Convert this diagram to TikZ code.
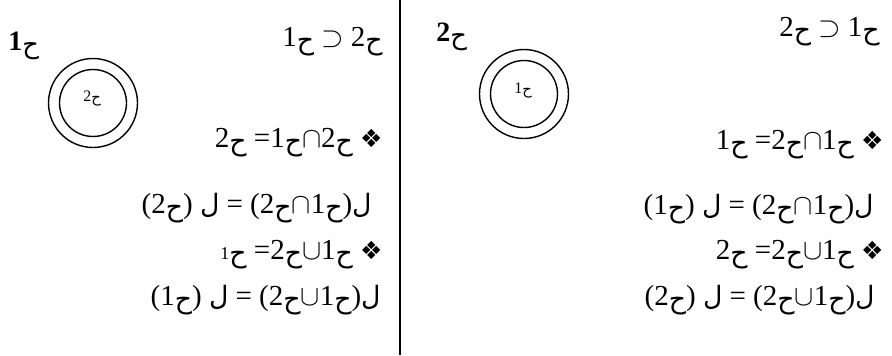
\documentclass[tikz,border=0pt]{standalone}
\usepackage{fontspec}
\usepackage{tikz}
\setmainfont{Liberation Serif}
\newfontfamily\arabicfont[Script=Arabic,Scale=0.92]{DejaVu Sans}
\newfontfamily\symfont{DejaVu Sans}
\newcommand{\ha}{\raisebox{-0.12em}{\arabicfont\mdseries ح}}
\newcommand{\lam}{{\arabicfont\mdseries ل}}
\newcommand{\orn}{{\symfont\fontsize{12.5}{12}\selectfont ❖}}

\begin{document}
\begin{tikzpicture}[x=0.5pt, y=-0.5pt,
    eq/.style={anchor=base east, inner sep=0pt, font=\fontsize{14.5}{17}\selectfont},
    tag/.style={anchor=base west, inner sep=0pt, font=\fontsize{14}{17}\selectfont\bfseries},
    sub/.style={anchor=base, inner sep=0pt, font=\fontsize{8}{9}\selectfont},
    ring/.style={draw, circle, line width=0.7pt, inner sep=0pt}]
    \useasboundingbox (0,0) rectangle (892,355);

    % Divider
    \coordinate (top) at (400,0);
    \coordinate (bot) at (400,355);
    \draw[line width=0.6pt] (top) -- (bot);

    % Left: first set contains the second
    \node[tag] (lname) at (8,50) {1\ha};
    \node[ring, minimum size=44.5pt] (lout) at (93,103) {};
    \node[ring, minimum size=33.5pt] (lin) at (lout) {};
    \node[sub] (linner) at (92,101) {2\ha};
    \node[eq] (l1) at (383,46) {1\ha\ $\supset$ 2\ha};
    \node[eq] (l3) at (383,147) {2\ha\ =1\ha$\cap$2\ha\ \orn};
    \node[eq] (l4) at (372,213) {(2\ha)\ \lam\ = (2\ha$\cap$1\ha)\lam};
    \node[eq] (l5) at (383,259) {{\fontsize{9}{9}\selectfont 1}\ha\ =2\ha$\cup$1\ha\ \orn};
    \node[eq] (l6) at (381,305) {(1\ha)\ \lam\ = (2\ha$\cup$1\ha)\lam};

    % Right: second set contains the first
    \node[tag] (rname) at (436,41) {2\ha};
    \node[ring, minimum size=44.5pt] (rout) at (524,94) {};
    \node[ring, minimum size=33.5pt] (rin) at (rout) {};
    \node[sub] (rinner) at (523,93) {1\ha};
    \node[eq] (r1) at (880,36) {2\ha\ $\supset$ 1\ha};
    \node[eq] (r3) at (884,149) {1\ha\ =2\ha$\cap$1\ha\ \orn};
    \node[eq] (r4) at (874,214) {(1\ha)\ \lam\ = (2\ha$\cap$1\ha)\lam};
    \node[eq] (r5) at (884,259) {2\ha\ =2\ha$\cup$1\ha\ \orn};
    \node[eq] (r6) at (875,305) {(2\ha)\ \lam\ = (2\ha$\cup$1\ha)\lam};
\end{tikzpicture}
\end{document}
